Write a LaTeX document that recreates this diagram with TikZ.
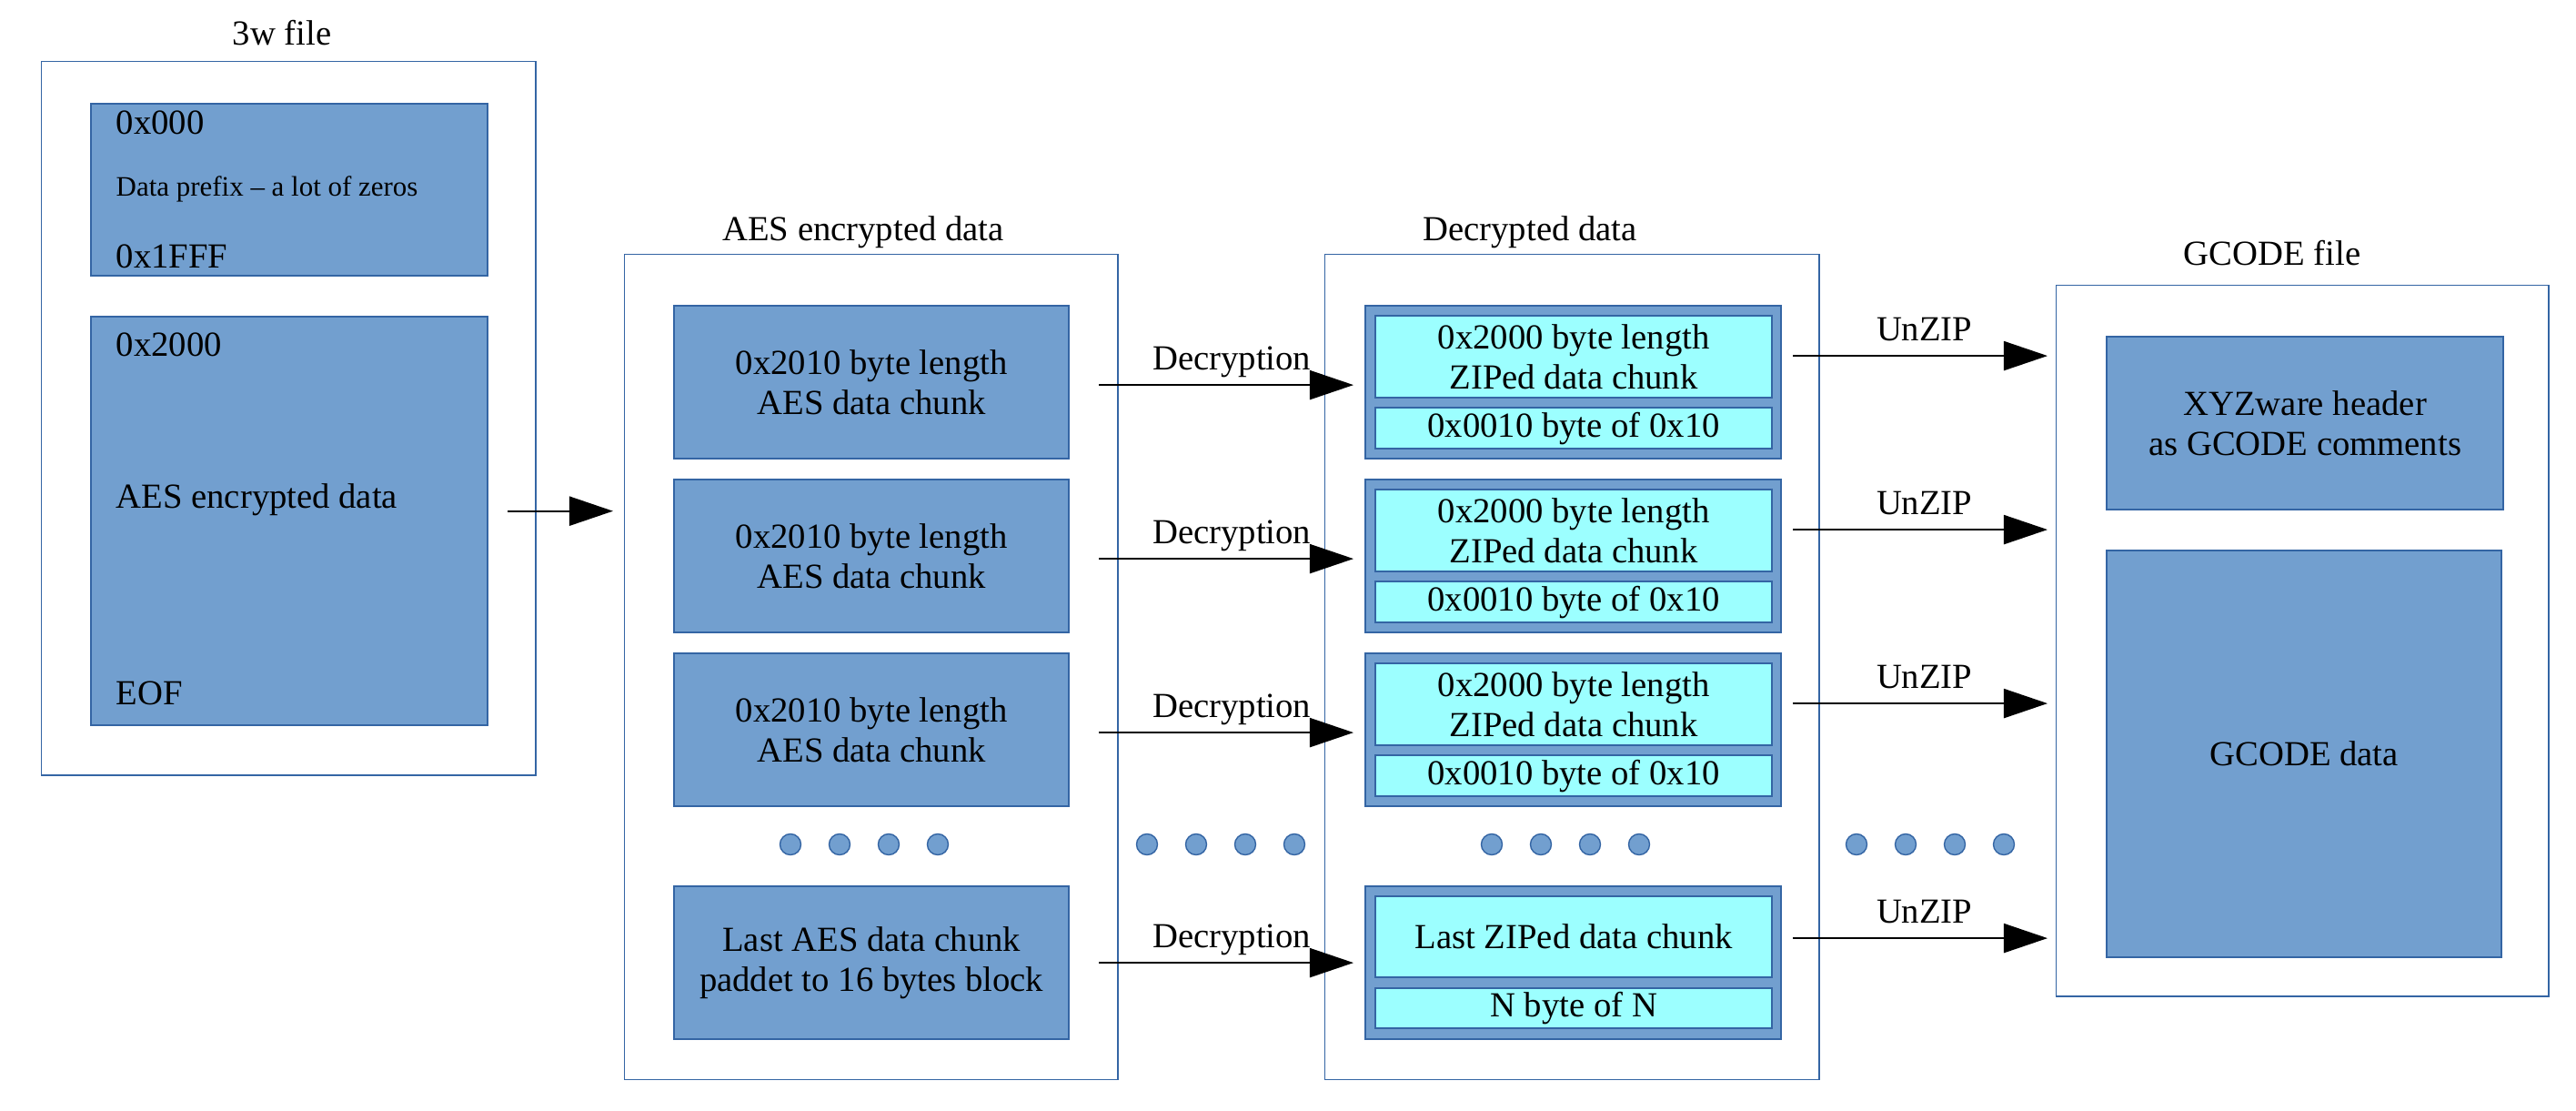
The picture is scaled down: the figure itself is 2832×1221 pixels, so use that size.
\documentclass[tikz,border=0pt]{standalone}
\usepackage{fontspec}
\setmainfont{Liberation Serif}
\usetikzlibrary{arrows.meta}

\definecolor{chunkblue}{HTML}{729FCF}
\definecolor{edgeblue}{HTML}{3465A4}
\definecolor{zipcyan}{HTML}{9CFFFF}

\begin{document}
\begin{tikzpicture}[x=0.01cm, y=-0.01cm,
  frame/.style={draw=edgeblue, line width=0.35pt, fill=white, inner sep=0pt, anchor=north west},
  block/.style={draw=edgeblue, line width=0.6pt, fill=chunkblue, inner sep=0pt,
    anchor=north west, align=center, font=\fontsize{11}{12.4}\selectfont},
  zipbox/.style={block, fill=zipcyan},
  ttl/.style={font=\fontsize{11}{13}\selectfont},
  steplbl/.style={ttl, text depth=0pt, midway, above=1pt},
  lbl/.style={font=\fontsize{11}{13}\selectfont, anchor=west, inner sep=0pt},
  flow/.style={-{Triangle[length=0.48cm, width=0.32cm]}, line width=0.6pt},
  dot/.style={circle, draw=edgeblue, fill=chunkblue, line width=0.4pt,
    minimum size=0.23cm, inner sep=0pt}]
  \useasboundingbox (0,0) rectangle (2832,1221);

  % Outer frames with their titles
  \node[frame, minimum width=5.43cm, minimum height=7.84cm] (wfile) at (45,67) {};
  \node[frame, minimum width=5.42cm, minimum height=9.06cm] (aesframe) at (686,279) {};
  \node[frame, minimum width=5.43cm, minimum height=9.06cm] (decframe) at (1456,279) {};
  \node[frame, minimum width=5.41cm, minimum height=7.81cm] (gcode) at (2260,313) {};
  \node[ttl] at (310,36) {3w file};
  \node[ttl] at (949,255) {AES encrypted data};
  \node[ttl] at (1682,255) {Decrypted data};
  \node[ttl] at (2498,278) {GCODE file};

  % 3w file layout
  \node[block, minimum width=4.36cm, minimum height=1.89cm] (prefix) at (99,113) {};
  \node[block, minimum width=4.36cm, minimum height=4.49cm] (encdata) at (99,347) {};
  \node[lbl] at (127,135) {0x000};
  \node[lbl, font=\fontsize{8.8}{10}\selectfont] at (127,208) {Data prefix -- a lot of zeros};
  \node[lbl] at (127,282) {0x1FFF};
  \node[lbl] at (127,379) {0x2000};
  \node[lbl] at (127,549) {AES encrypted data};
  \node[lbl] at (127,762) {EOF};
  \coordinate (feed) at ([xshift=0.21cm, yshift=0.11cm]encdata.east);
  \draw[flow, shorten >=0.12cm] (feed) -- (feed -| aesframe.west);

  % Full size chunks
  \foreach \i/\y in {1/335, 2/526, 3/717} {
    \node[block, minimum width=4.34cm, minimum height=1.68cm] (aes\i) at (740,\y)
      {0x2010 byte length\\AES data chunk};
    \node[block, minimum width=4.57cm, minimum height=1.68cm] (dec\i) at (1500,\y) {};
    \node[zipbox, minimum width=4.36cm, minimum height=0.90cm] (zip\i) at (1511,\y+11)
      {0x2000 byte length\\ZIPed data chunk};
    \node[zipbox, minimum width=4.36cm, minimum height=0.45cm] (pad\i) at (1511,\y+112)
      {0x0010 byte of 0x10};
    \coordinate (d\i) at ([xshift=0.32cm, yshift=-0.03cm]aes\i.east);
    \draw[flow, shorten >=0.12cm] (d\i) -- (d\i -| dec\i.west)
      node[steplbl] {Decryption};
    \coordinate (u\i) at ([xshift=0.12cm, yshift=0.29cm]dec\i.east);
    \draw[flow, shorten >=0.09cm] (u\i) -- (u\i -| gcode.west)
      node[steplbl] {UnZIP};
  }

  % Continuation dots
  \foreach \x in {869, 1261, 1640, 2041}
    \foreach \k in {0,...,3}
      \node[dot] at ({\x+54*\k},928) {};

  % Last chunk
  \node[block, minimum width=4.34cm, minimum height=1.68cm] (aes4) at (740,973)
    {Last AES data chunk\\paddet to 16 bytes block};
  \node[block, minimum width=4.57cm, minimum height=1.68cm] (dec4) at (1500,973) {};
  \node[zipbox, minimum width=4.36cm, minimum height=0.89cm] (zip4) at (1511,984)
    {Last ZIPed data chunk};
  \node[zipbox, minimum width=4.36cm, minimum height=0.44cm] (pad4) at (1511,1085)
    {N byte of N};
  \draw[flow, shorten >=0.12cm] ([xshift=0.32cm]aes4.east) -- (dec4.west)
    node[steplbl] {Decryption};
  \coordinate (u4) at ([xshift=0.12cm, yshift=0.27cm]dec4.east);
  \draw[flow, shorten >=0.09cm] (u4) -- (u4 -| gcode.west)
    node[steplbl] {UnZIP};

  % GCODE file layout
  \node[block, minimum width=4.36cm, minimum height=1.90cm] (header) at (2315,369)
    {XYZware header\\as GCODE comments};
  \node[block, minimum width=4.34cm, minimum height=4.47cm] (gdata) at (2315,604)
    {GCODE data};
\end{tikzpicture}
\end{document}
